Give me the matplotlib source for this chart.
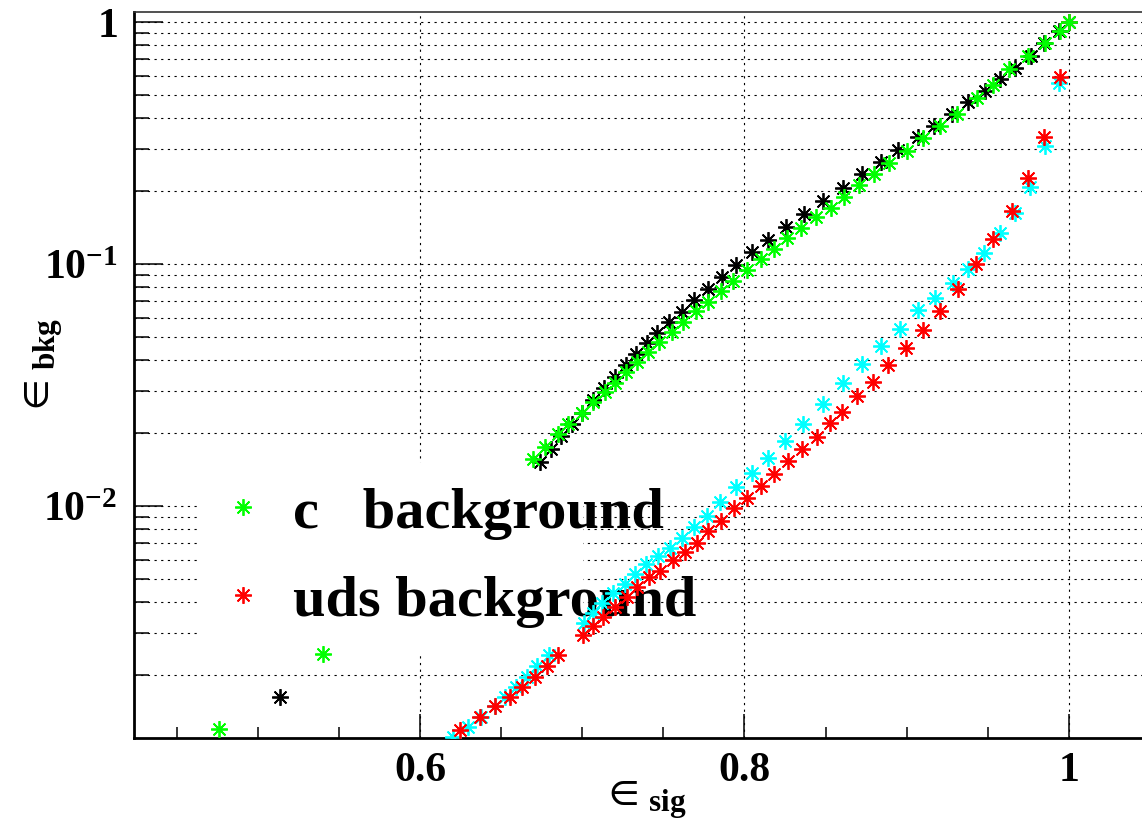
import matplotlib

matplotlib.use('Agg')
import matplotlib.pyplot as plt
from matplotlib.ticker import FixedLocator, FixedFormatter, LogLocator, MultipleLocator, NullFormatter
from matplotlib.patches import Rectangle

plt.rcParams['font.family'] = ['Liberation Serif', 'DejaVu Serif']
plt.rcParams['mathtext.fontset'] = 'custom'
plt.rcParams['mathtext.rm'] = 'Liberation Serif'
plt.rcParams['mathtext.bf'] = 'Liberation Serif:bold'
plt.rcParams['mathtext.fallback'] = 'stix'

# c background, green
c_sig = [0.476, 0.540, 0.6695, 0.677, 0.6852, 0.6914, 0.6997, 0.7068, 0.714, 0.7202, 0.727, 0.7339,
         0.7407, 0.7475, 0.7551, 0.7623, 0.7701, 0.7777, 0.7853, 0.7931, 0.8017, 0.8102, 0.8182,
         0.8264, 0.8346, 0.8441, 0.8531, 0.8615, 0.8707, 0.8798, 0.889, 0.8999, 0.9102, 0.9205,
         0.9311, 0.9431, 0.9533, 0.9632, 0.9749, 0.9852, 0.9944, 1.0]
c_bkg = [0.0012, 0.00245, 0.0156, 0.0176, 0.0198, 0.0218, 0.0242, 0.0268, 0.0297, 0.0323, 0.0359,
         0.0395, 0.0432, 0.0477, 0.0525, 0.0574, 0.0639, 0.0698, 0.0776, 0.0853, 0.0945, 0.1046,
         0.115, 0.1284, 0.1413, 0.156, 0.1709, 0.1897, 0.212, 0.2348, 0.2607, 0.2938, 0.3325,
         0.3717, 0.4168, 0.4839, 0.5491, 0.6377, 0.7236, 0.8165, 0.9205, 1.0]

# c background, second tagger (black)
c2_sig = [0.514, 0.674, 0.6807, 0.6869, 0.6935, 0.700, 0.7068, 0.7134, 0.7202, 0.727, 0.7331, 0.7397,
          0.7462, 0.7536, 0.7613, 0.7687, 0.7777, 0.7859, 0.7948, 0.8044, 0.8147, 0.8256, 0.8368,
          0.8486, 0.8605, 0.8722, 0.8839, 0.8948, 0.9071, 0.917, 0.9277, 0.9379, 0.9482, 0.9574,
          0.9667, 0.9764, 0.9848, 0.9938, 1.0]
c2_bkg = [0.001625, 0.0152, 0.0172, 0.0195, 0.0218, 0.0243, 0.0274, 0.0306, 0.0342, 0.0382, 0.0423,
          0.047, 0.052, 0.0574, 0.0635, 0.0708, 0.0786, 0.0886, 0.0991, 0.1117, 0.1257, 0.1418,
          0.1605, 0.1827, 0.2066, 0.2348, 0.2632, 0.2959, 0.3357, 0.3728, 0.4168, 0.4658, 0.5201,
          0.5798, 0.6474, 0.7236, 0.8165, 0.9205, 1.0]

# uds background, red
uds_sig = [0.6247, 0.637, 0.6462, 0.6555, 0.6627, 0.6709, 0.6781, 0.6852, 0.7006, 0.7064, 0.713,
           0.7202, 0.7274, 0.734, 0.7413, 0.7479, 0.7557, 0.7633, 0.7709, 0.7777, 0.7853, 0.7937,
           0.8017, 0.81, 0.8182, 0.8266, 0.8352, 0.8445, 0.8527, 0.8599, 0.8696, 0.8794, 0.8886,
           0.8995, 0.9098, 0.9205, 0.9314, 0.9427, 0.9533, 0.9647, 0.9749, 0.9846, 0.9944, 1.0]
uds_bkg = [0.001187, 0.00134, 0.001496, 0.00162, 0.001792, 0.00197, 0.002182, 0.002423, 0.00293,
           0.003192, 0.003487, 0.003836, 0.004218, 0.004627, 0.005075, 0.0054, 0.005981, 0.006477,
           0.007053, 0.0079, 0.008694, 0.00984, 0.01082, 0.01213, 0.01356, 0.01535, 0.01715,
           0.01934, 0.02197, 0.02453, 0.02835, 0.03263, 0.03825, 0.04484, 0.05337, 0.06412, 0.0788,
           0.1, 0.1269, 0.1661, 0.2259, 0.3339, 0.5909, 1.0]

# uds background, second tagger (cyan)
uds2_sig = [0.6205, 0.6298, 0.6374, 0.6462, 0.6524, 0.6592, 0.6661, 0.6723, 0.6797, 0.7011, 0.7068,
            0.712, 0.7191, 0.7263, 0.7325, 0.7393, 0.7469, 0.7541, 0.7613, 0.7689, 0.7771, 0.7849,
            0.7946, 0.8044, 0.8147, 0.825, 0.8359, 0.8482, 0.8605, 0.8722, 0.8839, 0.8958, 0.9071,
            0.9174, 0.9283, 0.9379, 0.9476, 0.9574, 0.9667, 0.9759, 0.9852, 0.994, 1.0]
uds2_bkg = [0.001113, 0.001225, 0.001347, 0.001496, 0.001629, 0.001781, 0.00197, 0.002182, 0.002423,
            0.003276, 0.003602, 0.003962, 0.004357, 0.004761, 0.005221, 0.005742, 0.006214,
            0.006725, 0.007396, 0.008213, 0.009118, 0.01042, 0.01195, 0.01365, 0.01574, 0.01862,
            0.02182, 0.02632, 0.03214, 0.03862, 0.04583, 0.05373, 0.06455, 0.07258, 0.0832,
            0.09508, 0.1113, 0.1339, 0.162, 0.2086, 0.3073, 0.558, 1.0]

x_ticks = [0.6, 0.8, 1.0]
x_labels = ['0.6', '0.8', '1']
y_ticks = [0.01, 0.1, 1.0]
y_labels = [r'$\mathbf{10^{-2}}$', r'$\mathbf{10^{-1}}$', r'$\mathbf{1}$']

fig = plt.figure(figsize=(11.42, 8.22), dpi=100)
ax = fig.add_axes([134 / 1142, 84 / 822, 1012 / 1142, 726 / 822])

star = (8, 2, 0)
style = dict(linestyle='none', marker=star, markersize=12, markeredgewidth=1.3, zorder=3)
ax.plot(c2_sig, c2_bkg, color='black', **style)
ax.plot(uds2_sig, uds2_bkg, color='#00ffff', **style)
h_uds, = ax.plot(uds_sig, uds_bkg, color='#ff0000', **style)
h_c, = ax.plot(c_sig, c_bkg, color='#00ff00', **style)

ax.set_yscale('log')
ax.set_xlim(0.4237, 1.0475)
ax.set_ylim(0.0011, 1.0998)

ax.xaxis.set_major_locator(FixedLocator(x_ticks))
ax.xaxis.set_major_formatter(FixedFormatter(x_labels))
ax.xaxis.set_minor_locator(MultipleLocator(0.05))
ax.yaxis.set_major_locator(FixedLocator(y_ticks))
ax.yaxis.set_major_formatter(FixedFormatter(y_labels))
ax.yaxis.set_minor_locator(LogLocator(base=10, subs=range(2, 10)))
ax.yaxis.set_minor_formatter(NullFormatter())

ax.tick_params(which='both', direction='in', top=False, right=False, width=1.1, colors='black')
ax.tick_params(axis='x', which='major', length=17, pad=10, labelsize=30)
ax.tick_params(axis='x', which='minor', length=8)
ax.tick_params(axis='y', which='major', length=21, pad=12, labelsize=30)
ax.tick_params(axis='y', which='minor', length=10.5)
for lab in ax.get_xticklabels():
    lab.set_fontweight('bold')

grid_style = dict(color='black', linestyle=(0, (2, 4)), linewidth=0.8)
ax.grid(True, which='major', axis='both', **grid_style)
ax.grid(True, which='minor', axis='y', **grid_style)
ax.set_axisbelow(True)

ax.spines['right'].set_visible(False)
ax.spines['left'].set_linewidth(2)
ax.spines['bottom'].set_linewidth(2)
ax.spines['top'].set_linewidth(1.2)
ax.spines['top'].set_color('#333333')

ax.set_xlabel(r'$\in_{\mathbf{sig}}$', fontsize=32)
ax.xaxis.set_label_coords(0.503, -0.056)
ax.xaxis.label.set_va('top')
ax.set_ylabel(r'$\in_{\mathbf{bkg}}$', fontsize=32)
ax.yaxis.set_label_coords(-0.068, 0.51)

# white legend pad that hides the grid behind the entries
ax.add_patch(Rectangle((0.0632, 0.1143), 0.3805, 0.2645, transform=ax.transAxes,
                       facecolor='white', edgecolor='none', zorder=2.5))
leg = ax.legend([h_c, h_uds], ['c   background', 'uds background'], loc='upper left',
                bbox_to_anchor=(0.0847, 0.3457), frameon=False, borderpad=0, borderaxespad=0,
                handlelength=0.8, handletextpad=0.46, labelspacing=0.6,
                prop={'family': 'Liberation Serif', 'weight': 'bold', 'size': 42})
leg.set_zorder(2.6)

fig.savefig('out.png', dpi=100)
